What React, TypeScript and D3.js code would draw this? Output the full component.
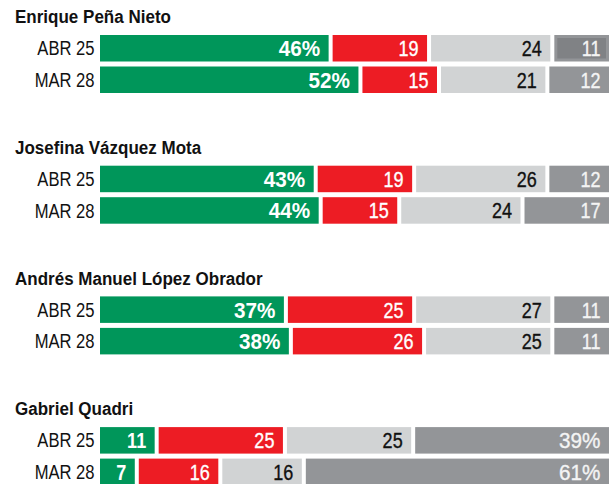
import React from "react";
import * as d3 from "d3";

const candidates = [
  "Enrique Peña Nieto",
  "Josefina Vázquez Mota",
  "Andrés Manuel López Obrador",
  "Gabriel Quadri",
];
const dates = ["ABR 25", "MAR 28"];
// [favorable, unfavorable, neutral, no opinion] per candidate per date
const values: number[][][] = [
  [[46, 19, 24, 11], [52, 15, 21, 12]],
  [[43, 19, 26, 12], [44, 15, 24, 17]],
  [[37, 25, 27, 11], [38, 26, 25, 11]],
  [[11, 25, 25, 39], [7, 16, 16, 61]],
];
const fills = ["#00965a", "#ed1c24", "#d1d3d4", "#939598"];
const textColors = ["#ffffff", "#ffffff", "#111111", "#f4f4f4"];
const weights = [700, 400, 400, 400];

const FONT = "'Liberation Sans', Arial, Helvetica, sans-serif";

export default function App() {
  const W = 612, H = 484;
  const x0 = 100, gap = 4;
  const x = d3.scaleLinear().domain([0, 100]).range([0, 497]);
  const groupTop = (g: number) => 35 + g * 130.7;
  const rowOff = [0, 31.5];
  const barH = 26.5;

  return (
    <svg width={W} height={H} style={{ position: "absolute", left: 0, top: 0, background: "#fff" }} fontFamily={FONT}>
      {candidates.map((name, g) => (
        <g key={name}>
          <text transform={`translate(15,${groupTop(g) - 11.7}) scale(0.92,1)`} fontSize={18.5} fontWeight={700} fill="#111">{name}</text>
          {dates.map((d, r) => {
            const vals = values[g][r];
            const top = groupTop(g) + rowOff[r];
            const maxI = vals.indexOf(Math.max(...vals));
            let cum = 0;
            return (
              <g key={d}>
                <text transform={`translate(94.5,${top + 20.3}) scale(0.79,1)`} fontSize={21} textAnchor="end" fill="#111">{d}</text>
                {vals.map((v, i) => {
                  const sx = x0 + x(cum) + i * gap;
                  const w = x(v);
                  cum += v;
                  const special = g === 0 && r === 0 && i === 3;
                  const isPct = i === maxI;
                  return (
                    <g key={i}>
                      <rect x={sx} y={top} width={w} height={barH} fill={fills[i]} />
                      {special && (
                        <rect x={sx + 3} y={top + 3} width={w - 6} height={barH - 6} fill="#808285" />
                      )}
                      <text transform={`translate(${sx + w - 8.5},${top + 21.2}) scale(${isPct ? 0.94 : 0.82},1)`} fontSize={22} textAnchor="end"
                        fontWeight={weights[i]} fill={textColors[i]}
                        stroke={weights[i] === 400 ? textColors[i] : "none"} strokeWidth={0.35}>
                        {v}{isPct ? "%" : ""}
                      </text>
                    </g>
                  );
                })}
              </g>
            );
          })}
        </g>
      ))}
    </svg>
  );
}
